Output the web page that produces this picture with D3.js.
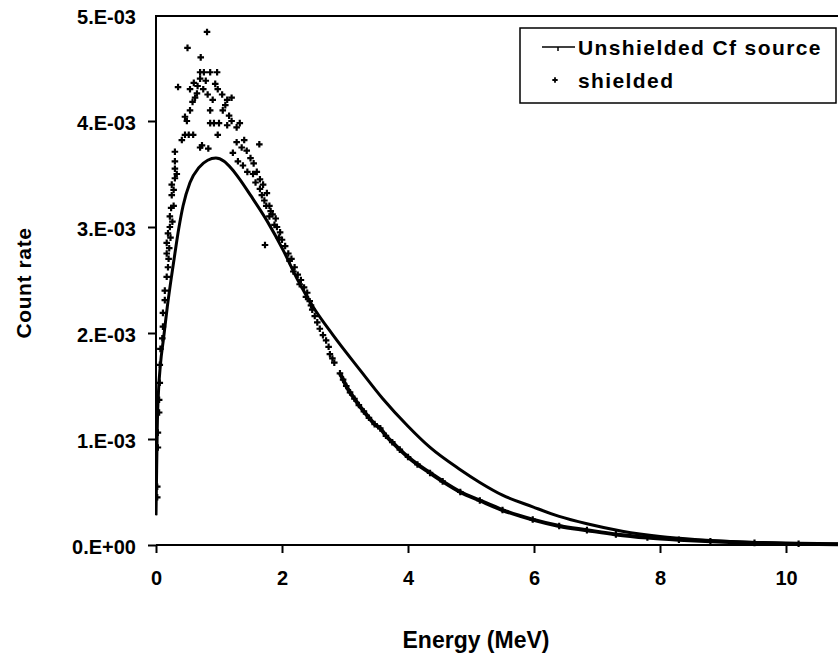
<!DOCTYPE html>
<html>
<head>
<meta charset="utf-8">
<script src="https://cdn.jsdelivr.net/npm/d3@7"></script>
<style>
  body { margin: 0; background: #fff; }
  svg { display: block; font-family: "Liberation Sans", Arial, sans-serif; }
  .tick text { font-weight: bold; fill: #000; }
</style>
</head>
<body>
<div id="graph"></div>
<script>
// rates are stored in units of 1e-3 (counts)
var RATE_UNIT = 1e-3;

var xTicks = [0, 2, 4, 6, 8, 10];
var yTicks = [0, 1, 2, 3, 4, 5];
var yTickLabels = ["0.E+00", "1.E-03", "2.E-03", "3.E-03", "4.E-03", "5.E-03"];

var seriesNames = ["Unshielded Cf source", "shielded"];

// unshielded Cf source: [energy MeV, rate]
var unshielded = [
  [0.0,0.28],[0.01,0.7],[0.02,1.1],[0.04,1.45],[0.07,1.7],[0.12,1.95],[0.18,2.25],
  [0.25,2.55],[0.3,2.75],[0.36,2.98],[0.43,3.2],[0.54,3.42],[0.68,3.56],[0.82,3.63],
  [0.95,3.65],[1.08,3.62],[1.2,3.55],[1.33,3.45],[1.5,3.3],[1.76,3.06],[2.02,2.78],
  [2.25,2.5],[2.49,2.25],[2.81,1.98],[3.24,1.65],[3.6,1.38],[4.0,1.12],[4.35,0.92],
  [4.83,0.71],[5.14,0.59],[5.5,0.47],[5.98,0.36],[6.4,0.27],[6.84,0.2],[7.4,0.13],
  [8.0,0.08],[8.6,0.05],[9.2,0.03],[10,0.015],[11,0.008],[12,0.004]
];

// shielded: [energy MeV, rate]
var shielded = [
  [0.02,0.45],[0.02,0.55],[0.03,0.92],[0.03,1.06],[0.05,1.25],[0.05,1.37],[0.06,1.53],
  [0.06,1.7],[0.07,1.85],[0.1,1.95],[0.11,2.06],[0.11,2.19],[0.14,2.31],[0.14,2.4],
  [0.17,2.53],[0.19,2.62],[0.17,2.75],[0.17,2.85],[0.19,2.94],[0.22,3.0],[0.22,3.1],
  [0.24,3.18],[0.25,3.3],[0.25,3.4],[0.3,3.46],[0.3,3.55],[0.3,3.62],[0.3,3.71],
  [0.2,2.7],[0.21,2.8],[0.23,2.9],[0.26,3.05],[0.28,3.2],[0.28,3.35],[0.33,3.5],
  [0.41,3.82],[0.46,3.87],[0.52,3.87],[0.59,3.87],[0.46,4.04],[0.54,4.1],[0.49,4.0],
  [0.35,4.32],[0.5,4.69],[0.71,4.6],[0.81,4.84],[0.7,4.46],[0.76,4.46],[0.86,4.46],
  [0.97,4.46],[0.54,4.3],[0.6,4.36],[0.65,4.26],[0.7,4.4],[0.62,4.22],[0.75,4.3],
  [0.82,4.25],[0.9,4.2],[0.98,4.3],[1.05,4.25],[1.13,4.2],[1.2,4.22],[0.86,4.1],
  [0.58,4.18],[0.66,4.33],[0.79,4.38],[0.94,4.35],[1.1,4.15],[1.16,4.05],
  [1.06,4.1],[0.86,3.98],[0.92,3.98],[1.0,3.98],[1.13,3.96],[1.2,4.0],[1.28,3.94],
  [1.33,3.98],[0.98,3.87],[0.73,3.77],[0.83,3.74],[0.7,3.75],[1.28,3.8],[1.36,3.75],
  [1.44,3.72],[1.4,3.82],[1.64,3.78],[1.22,3.7],[1.3,3.62],[1.38,3.58],[1.45,3.52],
  [1.5,3.65],[1.55,3.6],[1.6,3.52],[1.65,3.45],[1.54,3.5],[1.7,3.4],[1.65,3.36],
  [1.58,3.42],[1.68,3.3],[1.75,3.2],[1.82,3.15],[1.88,3.02],[1.95,2.9],
  [1.76,3.32],[1.72,3.25],[1.8,3.2],[1.85,3.12],[1.9,3.08],[1.8,3.1],[1.92,3.0],
  [1.97,2.95],[2.0,2.88],[2.05,2.82],[1.73,2.83],
  [2.1,2.75],[2.15,2.7],[2.2,2.62],[2.25,2.55],[2.3,2.5],[2.35,2.43],[2.4,2.38],
  [2.12,2.68],[2.18,2.58],[2.28,2.46],[2.38,2.34],[2.46,2.26],
  [2.44,2.3],[2.48,2.22],[2.52,2.16],[2.56,2.1],[2.6,2.04],[2.65,1.98],[2.7,1.93],
  [2.74,1.87],[2.76,1.8],[2.8,1.76],[2.83,1.72],
  [2.92,1.62],[2.97,1.56],[3.02,1.5],[3.08,1.44],[3.15,1.38],[3.22,1.32],[3.3,1.26],
  [3.38,1.2],[3.47,1.14],[3.56,1.1],[3.65,1.03],[3.75,0.97],[3.87,0.9],[4.0,0.83],
  [4.15,0.76],[4.35,0.68],[4.55,0.6],[4.83,0.5],[5.14,0.42],[5.5,0.33],[5.98,0.24],
  [6.4,0.18],[6.84,0.14],[7.3,0.1],[7.8,0.07],[8.3,0.05],[8.8,0.035],[9.5,0.02],
  [10.2,0.012],[11,0.007],[12,0.004]
];
// above this energy the shielded points are packed into a solid band
var denseFrom = 2.9;

var W = 838, H = 660;
var plotLeft = 156, plotTop = 15, plotBottom = 545;

var x = d3.scaleLinear().domain([0, 12]).range([plotLeft, plotLeft + 12 * 63]);
var y = d3.scaleLinear().domain([0, 5 * RATE_UNIT]).range([plotBottom, plotTop]);

var svg = d3.select("#graph").append("svg")
    .attr("width", W)
    .attr("height", H);

svg.append("defs").append("clipPath").attr("id", "plot")
  .append("rect").attr("x", plotLeft).attr("y", 0)
  .attr("width", W - plotLeft).attr("height", plotBottom + 2);

// top frame line
svg.append("line")
    .attr("x1", plotLeft).attr("x2", W)
    .attr("y1", plotTop + 1).attr("y2", plotTop + 1)
    .attr("stroke", "#000").attr("stroke-width", 2);

// y axis
var yAxis = d3.axisLeft(y)
    .tickValues(yTicks.map(function(d) { return d * RATE_UNIT; }))
    .tickFormat(function(d, i) { return yTickLabels[i]; })
    .tickSize(8)
    .tickPadding(12);
var gy = svg.append("g")
    .attr("transform", "translate(" + plotLeft + ",0)")
    .call(yAxis);
gy.select(".domain").remove();
gy.selectAll(".tick line").attr("stroke-width", 2)
    .filter(function(d) { return d === 5 * RATE_UNIT; }).remove();
gy.selectAll(".tick text").style("font-size", "20px").attr("dy", "0.4em");
// axis line stops short of zero in the original
svg.append("line")
    .attr("x1", plotLeft).attr("x2", plotLeft)
    .attr("y1", plotTop).attr("y2", y(0.28 * RATE_UNIT))
    .attr("stroke", "#000").attr("stroke-width", 2);

// x axis
var xAxis = d3.axisBottom(x)
    .tickValues(xTicks)
    .tickFormat(d3.format("d"))
    .tickSize(8)
    .tickPadding(18);
var gx = svg.append("g")
    .attr("transform", "translate(0," + plotBottom + ")")
    .call(xAxis);
gx.select(".domain").attr("d", "M" + plotLeft + ",0H" + W).attr("stroke-width", 2);
gx.selectAll(".tick line").attr("stroke-width", 2);
gx.selectAll(".tick text").style("font-size", "20px");

// axis titles
svg.append("text")
    .attr("x", 476).attr("y", 648)
    .attr("text-anchor", "middle")
    .style("font-size", "23px").style("font-weight", "bold")
    .text("Energy (MeV)");
svg.append("text")
    .attr("transform", "translate(31,283) rotate(-90)")
    .attr("text-anchor", "middle")
    .style("font-size", "21px").style("font-weight", "bold")
    .style("letter-spacing", "0.6px")
    .text("Count rate");

var plot = svg.append("g").attr("clip-path", "url(#plot)");

var line = d3.line()
    .x(function(d) { return x(d[0]); })
    .y(function(d) { return y(d[1] * RATE_UNIT); })
    .curve(d3.curveMonotoneX);

// unshielded line
plot.append("path")
    .datum(unshielded)
    .attr("fill", "none")
    .attr("stroke", "#000")
    .attr("stroke-width", 3)
    .attr("d", line);

// shielded dense tail
plot.append("path")
    .datum(shielded.filter(function(d) { return d[0] >= denseFrom; }))
    .attr("fill", "none")
    .attr("stroke", "#000")
    .attr("stroke-width", 4)
    .attr("d", line);

// shielded points
var marker = d3.symbol().type(d3.symbolCross).size(24);
plot.selectAll(".dot")
    .data(shielded)
  .enter().append("path")
    .attr("class", "dot")
    .attr("transform", function(d) { return "translate(" + x(d[0]) + "," + y(d[1] * RATE_UNIT) + ")"; })
    .attr("d", marker)
    .attr("fill", "#000");

// legend
var lg = svg.append("g");
lg.append("rect")
    .attr("x", 520).attr("y", 28)
    .attr("width", 316).attr("height", 75)
    .attr("fill", "#fff").attr("stroke", "#000").attr("stroke-width", 1.5);
lg.append("line")
    .attr("x1", 542).attr("x2", 575).attr("y1", 47).attr("y2", 47)
    .attr("stroke", "#000").attr("stroke-width", 1.5);
lg.append("line")
    .attr("x1", 558).attr("x2", 558).attr("y1", 47).attr("y2", 51)
    .attr("stroke", "#000").attr("stroke-width", 1.5);
lg.append("path")
    .attr("transform", "translate(555,80)")
    .attr("d", d3.symbol().type(d3.symbolCross).size(16))
    .attr("fill", "#000");
lg.selectAll(".ltext")
    .data(seriesNames)
  .enter().append("text")
    .attr("class", "ltext")
    .attr("x", 578)
    .attr("y", function(d, i) { return 55 + i * 33; })
    .style("font-size", "21px").style("font-weight", "bold")
    .style("letter-spacing", "1.4px")
    .text(function(d) { return d; });
</script>
</body>
</html>
